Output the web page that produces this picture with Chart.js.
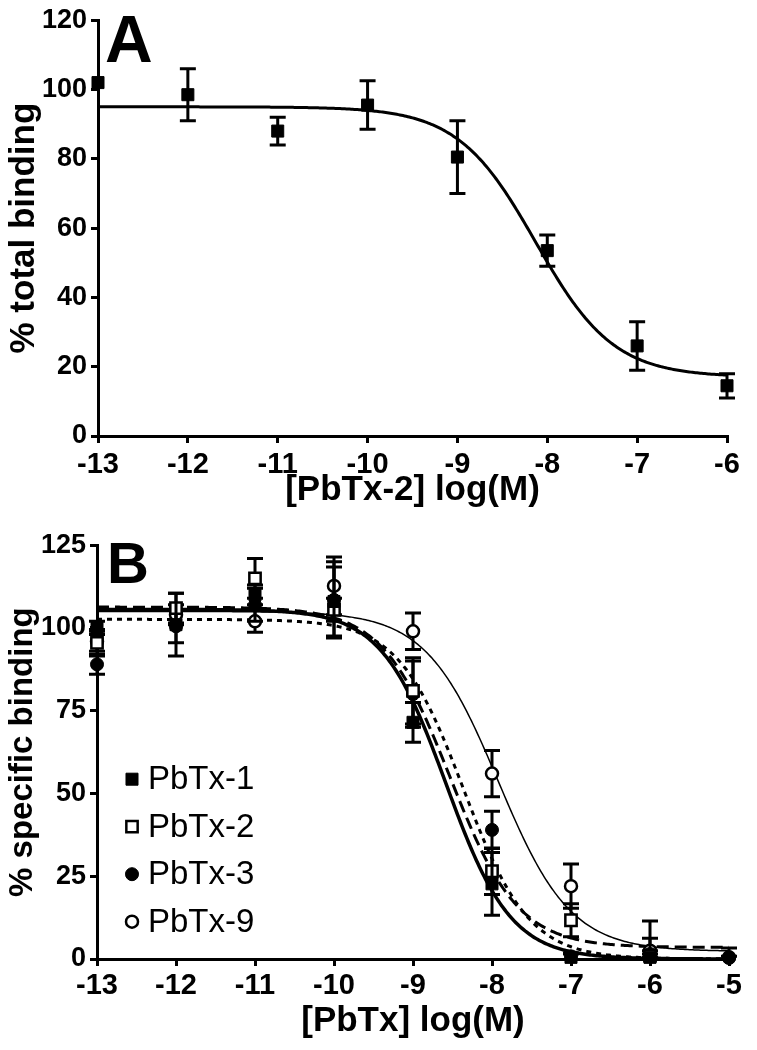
<!DOCTYPE html>
<html><head><meta charset="utf-8">
<script src="https://cdn.jsdelivr.net/npm/chart.js@4.4.0/dist/chart.umd.min.js"></script>
<style>
html,body{margin:0;padding:0;background:#fff;}
canvas{display:block;}
</style></head><body>
<canvas id="cA" width="757" height="525"></canvas>
<canvas id="cB" width="757" height="525"></canvas>
<script>
// ---------- Panel A data ----------
const xA = [-13, -12, -11, -10, -9, -8, -7, -6];
const yA = [102, 98.5, 88, 95.5, 80.5, 53.5, 26, 14.5];
const errA = [0, 7.5, 4, 7, 10.5, 4.5, 7, 3.5];
// fitted curve parameters: top, bottom, logIC50, hill slope
const fitA = [95, 17, -8.13, 1.0];
const yTicksA = [0, 20, 40, 60, 80, 100, 120];

// ---------- Panel B data ----------
const xB = [-13, -12, -11, -10, -9, -8, -7, -6, -5];
const labelsB = ['PbTx-1', 'PbTx-2', 'PbTx-3', 'PbTx-9'];
const pbtx1 = [100, 101, 110, 108, 71.5, 22.7, 0.5, 0.5, null];
const pbtx1Err = [2, 9.5, 3, 10.4, 6, 9.5, 1, 1, 0];
const pbtx2 = [95.5, 106, 115, 105.5, 81, 26.5, 11.7, 1, null];
const pbtx2Err = [4, 4.5, 6, 3.5, 10, 7, 5, 5.3, 0];
const pbtx3 = [89, 100.5, 107, 108.5, 80, 39, 0.8, 1.5, 0.3];
const pbtx3Err = [3, 5, 5, 11.5, 10, 5.6, 1, 1, 0.5];
const pbtx9 = [96, 104, 102, 112.7, 99, 56, 22, 2.5, 0.5];
const pbtx9Err = [3, 3, 3.3, 8.7, 5.5, 7, 6.7, 9, 2.8];
// fitted curve parameters [top, bottom, logIC50, hill]
const fit1 = [105.6, 0, -8.58, 1.06];
const fit2 = [106.3, 3.5, -8.53, 1.01];
const fit3 = [102.6, 0, -8.36, 1.05];
const fit9 = [105, 2.3, -7.92, 0.95];
const yTicksB = [0, 25, 50, 75, 100, 125];

const FONT = "'Liberation Sans', Arial, sans-serif";

function sigmoidCurve(p, xmin, xmax) {
  const pts = [];
  for (let i = 0; i <= 400; i++) {
    const x = xmin + (xmax - xmin) * i / 400;
    pts.push({x, y: p[1] + (p[0] - p[1]) / (1 + Math.pow(10, (x - p[2]) * p[3]))});
  }
  return pts;
}
function pts(xs, ys) {
  const out = [];
  xs.forEach((x, i) => { if (ys[i] != null) out.push({x, y: ys[i]}); });
  return out;
}
function errs(ys, es) {
  const out = [];
  ys.forEach((y, i) => { if (y != null) out.push(es[i]); });
  return out;
}

const errorBars = {
  id: 'errorBars',
  beforeDatasetDraw(chart, args) {
    const ds = chart.data.datasets[args.index];
    if (!ds.errors) return;
    const {ctx, scales: {x, y}} = chart;
    const cap = ds.capWidth || 8;
    ctx.save();
    ctx.strokeStyle = '#000';
    ctx.lineWidth = ds.errWidth || 3;
    ds.data.forEach((p, j) => {
      const e = ds.errors[j];
      if (!e) return;
      const px = x.getPixelForValue(p.x);
      const yt = y.getPixelForValue(p.y + e);
      const yb = y.getPixelForValue(Math.max(p.y - e, y.min));
      ctx.beginPath();
      ctx.moveTo(px, yt); ctx.lineTo(px, yb);
      ctx.moveTo(px - cap, yt); ctx.lineTo(px + cap, yt);
      if (p.y - e > y.min) { ctx.moveTo(px - cap, yb); ctx.lineTo(px + cap, yb); }
      ctx.stroke();
    });
    ctx.restore();
  }
};

const panelLetter = {
  id: 'panelLetter',
  afterDraw(chart, args, opts) {
    const {ctx, chartArea} = chart;
    ctx.save();
    ctx.fillStyle = '#000';
    ctx.font = `bold ${opts.size}px ${FONT}`;
    ctx.textBaseline = 'alphabetic';
    ctx.fillText(opts.text, chartArea.left + opts.dx, chartArea.top + opts.dy);
    ctx.restore();
  }
};

const innerLegend = {
  id: 'innerLegend',
  afterDraw(chart, args, opts) {
    if (!opts.display) return;
    const {ctx, chartArea} = chart;
    ctx.save();
    ctx.font = `${opts.size}px ${FONT}`;
    ctx.textBaseline = 'middle';
    let row = 0;
    chart.data.datasets.forEach(ds => {
      if (!ds.inLegend) return;
      const cy = chartArea.top + opts.y0 + row * opts.gap;
      const cx = chartArea.left + opts.x0;
      ctx.fillStyle = ds.backgroundColor;
      ctx.strokeStyle = ds.borderColor;
      ctx.lineWidth = ds.borderWidth;
      Chart.helpers.drawPoint(ctx, {pointStyle: ds.pointStyle, radius: ds.legendRadius, borderWidth: ds.borderWidth, rotation: 0}, cx, cy);
      ctx.fillStyle = '#000';
      ctx.fillText(ds.label, cx + opts.textGap, cy + 1);
      row++;
    });
    ctx.restore();
  }
};

function axisCommon(min, max, step, titleText, titlePad, tickPad, tickSize, titleSize) {
  return {
    type: 'linear', min, max,
    ticks: {stepSize: step, color: '#000', padding: tickPad, font: {family: FONT, size: tickSize, weight: 'bold'}},
    grid: {display: true, drawOnChartArea: false, drawTicks: true, tickLength: 7, tickWidth: 3, color: '#000', lineWidth: 3},
    border: {display: true, color: '#000', width: 3},
    title: {display: true, text: titleText, color: '#000', font: {family: FONT, size: titleSize, weight: 'bold'}, padding: titlePad}
  };
}

function markerDs(label, xs, ys, es, style, filled, legend, r) {
  return {
    label, data: pts(xs, ys), errors: errs(ys, es),
    pointStyle: style, pointRadius: r, pointHoverRadius: r, legendRadius: r,
    backgroundColor: filled ? '#000' : '#fff', borderColor: '#000',
    borderWidth: filled ? 1 : 2.5, showLine: false, clip: false,
    capWidth: 8, errWidth: 3, inLegend: legend, order: 1
  };
}
function curveDs(p, xmin, xmax, width, dash) {
  return {
    label: 'fit', data: sigmoidCurve(p, xmin, xmax), showLine: true,
    pointRadius: 0, borderColor: '#000', backgroundColor: '#000',
    borderWidth: width, borderDash: dash, fill: false, tension: 0, order: 5, clip: false
  };
}

// ---------- Chart A ----------
const xAxA = axisCommon(-13, -6, 1, '[PbTx-2] log(M)', {top: 0, bottom: 14}, 5, 29, 35);
xAxA.afterFit = s => { s.height = 89; };
const yAxA = axisCommon(0, 120, 20, '% total binding', {top: 3, bottom: 0}, 4, 27, 35);
yAxA.afterFit = s => { s.width = 98; };
yAxA.afterBuildTicks = s => { s.ticks = yTicksA.map(v => ({value: v})); };

new Chart(document.getElementById('cA'), {
  type: 'scatter',
  data: {datasets: [
    markerDs('PbTx-2', xA, yA, errA, 'rect', true, false, 8.5),
    curveDs(fitA, -13, -6, 3, [])
  ]},
  options: {
    responsive: false, animation: false, devicePixelRatio: 1,
    layout: {padding: {left: 0, right: 30, top: 20, bottom: 0}},
    plugins: {legend: {display: false}, tooltip: {enabled: false},
      panelLetter: {text: 'A', size: 66, dx: 7, dy: 42}, innerLegend: {display: false}},
    scales: {x: xAxA, y: yAxA}
  },
  plugins: [errorBars, panelLetter, innerLegend]
});

// ---------- Chart B ----------
const xAxB = axisCommon(-13, -5, 1, '[PbTx] log(M)', {top: 0, bottom: 8}, 3, 29, 35);
xAxB.afterFit = s => { s.height = 91; };
const yAxB = axisCommon(0, 125, 25, '% specific binding', {top: 3, bottom: 0}, 4, 27, 33);
yAxB.afterFit = s => { s.width = 97; };
yAxB.afterBuildTicks = s => { s.ticks = yTicksB.map(v => ({value: v})); };

new Chart(document.getElementById('cB'), {
  type: 'scatter',
  data: {datasets: [
    markerDs(labelsB[0], xB, pbtx1, pbtx1Err, 'rect', true, true, 8.5),
    markerDs(labelsB[1], xB, pbtx2, pbtx2Err, 'rect', false, true, 8),
    markerDs(labelsB[2], xB, pbtx3, pbtx3Err, 'circle', true, true, 6.5),
    markerDs(labelsB[3], xB, pbtx9, pbtx9Err, 'circle', false, true, 6),
    curveDs(fit1, -13, -5, 3.5, []),
    curveDs(fit2, -13, -5, 3, [12, 6]),
    curveDs(fit3, -13, -5, 3, [5, 5]),
    curveDs(fit9, -13, -5, 1.5, [])
  ]},
  options: {
    responsive: false, animation: false, devicePixelRatio: 1,
    layout: {padding: {left: 0, right: 28, top: 16, bottom: 0}},
    plugins: {legend: {display: false}, tooltip: {enabled: false},
      panelLetter: {text: 'B', size: 58, dx: 10, dy: 38},
      innerLegend: {display: true, size: 33, x0: 35, y0: 234, gap: 47.5, textGap: 16}},
    scales: {x: xAxB, y: yAxB}
  },
  plugins: [errorBars, panelLetter, innerLegend]
});
</script>
</body></html>
